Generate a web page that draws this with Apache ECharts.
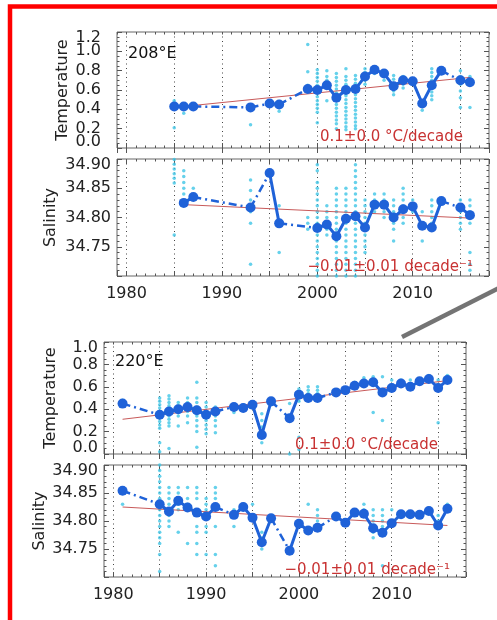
<!DOCTYPE html>
<html><head><meta charset="utf-8">
<script src="https://cdn.jsdelivr.net/npm/echarts@6/dist/echarts.min.js"></script>
<style>html,body{margin:0;padding:0;background:#fff}#c{width:497px;height:620px}</style>
</head><body><div id="c"></div>
<script>
// ---------- DATA ----------
// 208°E temperature: annual means
const t208Years = [1985,1986,1987,1993,1995,1996,1999,2000,2001,2002,2003,2004,2005,2006,2007,2008,2009,2010,2011,2012,2013,2015,2016];
const t208Mean  = [0.43,0.43,0.43,0.42,0.46,0.45,0.61,0.60,0.65,0.52,0.60,0.61,0.74,0.81,0.77,0.64,0.70,0.69,0.46,0.65,0.80,0.70,0.68];
const t208TrendYears = [1985,2016];
const t208TrendVals  = [0.42,0.73];
const t208ObsYears = [1985,1986,1993,1995,1996,1999,2000,2001,2002,2003,2004,2005,2006,2007,2008,2009,2010,2011,2012,2013,2015,2016];
const t208ObsVals = [
  [0.49,0.46,0.21],[0.45,0.36],[0.24],[0.49],[0.48,0.38],[1.07,0.79,0.65,0.58],
  [0.81,0.77,0.73,0.69,0.65,0.61,0.57,0.53,0.49,0.45,0.41,0.37,0.26],
  [0.80,0.74,0.70,0.49],
  [0.77,0.73,0.69,0.65,0.61,0.57,0.53,0.49,0.45,0.41,0.37,0.33,0.29,0.25,0.20],
  [0.82,0.74,0.70,0.66,0.62,0.58,0.54,0.50,0.46,0.42,0.38,0.34,0.30,0.26,0.22,0.19],
  [0.75,0.71,0.67,0.63,0.59,0.55,0.51,0.47,0.43,0.39,0.35,0.31,0.27,0.23,0.20],
  [0.82,0.78,0.74,0.70,0.66],[0.82,0.77],[0.79,0.74,0.70],
  [0.75,0.71,0.67,0.63,0.59,0.55],[0.74,0.70,0.66,0.62],[0.72,0.68],[0.49,0.39],
  [0.82,0.78,0.74,0.70,0.66,0.62,0.58,0.54,0.50],[0.82,0.78],
  [0.80,0.74,0.66,0.59,0.52,0.42],[0.74,0.42]
];
// 208°E salinity
const s208Years = [1986,1987,1993,1995,1996,2000,2001,2002,2003,2004,2005,2006,2007,2008,2009,2010,2011,2012,2013,2015,2016];
const s208Mean  = [34.825,34.835,34.817,34.876,34.790,34.782,34.788,34.768,34.798,34.802,34.783,34.822,34.822,34.800,34.814,34.819,34.786,34.783,34.828,34.817,34.804];
const s208TrendYears = [1986,2016];
const s208TrendVals  = [34.822,34.799];
const s208ObsYears = [1985,1986,1987,1993,1996,1999,2000,2001,2002,2003,2004,2005,2006,2007,2008,2009,2010,2011,2012,2015,2016];
const s208ObsVals = [
  [34.907,34.899,34.891,34.883,34.875,34.867,34.859,34.77],
  [34.88,34.87,34.86,34.85,34.84],[34.85],
  [34.864,34.846,34.83,34.81,34.79,34.72],[34.82,34.74],[34.80,34.79,34.78],
  [34.89,34.88,34.86,34.85,34.84,34.83,34.82,34.81,34.80,34.79,34.78,34.77,34.76,34.75,34.74,34.73,34.72,34.71,34.70],
  [34.82,34.81,34.80,34.79,34.78,34.77],
  [34.85,34.84,34.83,34.82,34.81,34.80,34.79,34.78,34.77,34.76,34.75,34.74,34.73,34.72,34.71,34.70],
  [34.85,34.84,34.83,34.82,34.81,34.80,34.79,34.78,34.77,34.76,34.75,34.74,34.73,34.72,34.71,34.70],
  [34.905,34.89,34.88,34.87,34.86,34.85,34.84,34.83,34.82,34.81,34.80,34.79,34.78,34.77,34.76,34.75,34.74,34.73,34.72,34.71,34.70],
  [34.83,34.82,34.81,34.80,34.79,34.78,34.77,34.76,34.75,34.74],
  [34.84,34.83,34.82,34.81],[34.84,34.83,34.82,34.81,34.80],
  [34.83,34.82,34.81,34.80,34.79,34.78,34.76],
  [34.85,34.84,34.83,34.82,34.81,34.80,34.79],[34.83,34.82,34.81],[34.81,34.76],
  [34.83,34.82,34.81,34.80,34.79,34.78],[34.83,34.82,34.81,34.80,34.79,34.78],
  [34.83,34.82,34.81,34.80,34.79,34.74,34.72,34.71]
];
// 220°E temperature
const t220Years = [1981,1985,1986,1987,1988,1989,1990,1991,1993,1994,1995,1996,1997,1999,2000,2001,2002,2004,2005,2006,2007,2008,2009,2010,2011,2012,2013,2014,2015,2016];
const t220Mean  = [0.45,0.35,0.38,0.40,0.42,0.39,0.35,0.38,0.42,0.41,0.44,0.17,0.47,0.32,0.53,0.50,0.50,0.55,0.57,0.61,0.63,0.64,0.55,0.59,0.63,0.60,0.65,0.67,0.59,0.66];
const t220TrendYears = [1981,2016];
const t220TrendVals  = [0.31,0.655];
const t220ObsYears = [1981,1985,1986,1987,1988,1989,1990,1991,1993,1994,1996,1997,1999,2000,2001,2002,2004,2006,2007,2008,2009,2010,2011,2012,2014,2015,2016];
const t220ObsVals = [
  [0.48,0.44],
  [0.50,0.47,0.44,0.41,0.38,0.35,0.32,0.29,0.26,0.23,0.10,0.02],
  [0.52,0.49,0.46,0.43,0.40,0.37,0.34,0.31,0.28,0.25,0.05],
  [0.46,0.43,0.40,0.37,0.34,0.25],
  [0.50,0.46,0.42,0.38,0.34,0.28],
  [0.64,0.50,0.46,0.42,0.38,0.34,0.30,0.25,0.20,0.06],
  [0.46,0.42,0.38,0.34,0.30,0.26,0.22,0.18],
  [0.42,0.38,0.34,0.30,0.25,0.19],
  [0.44,0.37],[0.44],[0.36,0.30,0.24,0.10],[0.49,0.44],[0.45,0.00],
  [0.58,0.55,0.47,0.15,0.04],[0.60,0.57,0.54],[0.60,0.57,0.54],[0.57],
  [0.64,0.60],[0.68,0.64],[0.69,0.66,0.62,0.37],[0.69,0.30],[0.66,0.62],[0.66],
  [0.66,0.62],[0.70,0.66],[0.66,0.62,0.28],[0.70]
];
// 220°E salinity
const s220Years = [1981,1985,1986,1987,1988,1989,1990,1991,1993,1994,1995,1996,1997,1999,2000,2001,2002,2004,2005,2006,2007,2008,2009,2010,2011,2012,2013,2014,2015,2016];
const s220Mean  = [34.854,34.830,34.817,34.836,34.824,34.815,34.808,34.825,34.811,34.825,34.806,34.762,34.805,34.747,34.795,34.783,34.788,34.808,34.797,34.815,34.813,34.787,34.779,34.796,34.812,34.812,34.811,34.818,34.792,34.822];
const s220TrendYears = [1981,2016];
const s220TrendVals  = [34.825,34.792];
const s220ObsYears = [1981,1985,1986,1987,1988,1989,1990,1991,1993,1994,1995,1996,1997,2000,2001,2002,2007,2008,2009,2010,2015,2016];
const s220ObsVals = [
  [34.83],
  [34.90,34.89,34.88,34.87,34.86,34.85,34.84,34.83,34.82,34.81,34.80,34.79,34.78,34.77,34.76,34.74,34.71],
  [34.86,34.85,34.84,34.83,34.82,34.81,34.80,34.79],
  [34.86,34.85,34.84,34.83,34.82,34.78],
  [34.86,34.84,34.83,34.82,34.76],
  [34.86,34.85,34.84,34.82,34.79,34.78,34.76,34.74],
  [34.84,34.83,34.82,34.79,34.78,34.74],
  [34.86,34.85,34.84,34.79,34.74,34.72],
  [34.82,34.79],[34.83,34.82],[34.83],[34.78,34.77,34.75],[34.81,34.80],
  [34.80,34.79],[34.83],[34.82,34.81,34.80,34.79],[34.83,34.82],
  [34.82,34.81,34.80,34.78,34.77],[34.82,34.81,34.80,34.79,34.78,34.72],[34.82],
  [34.81,34.80],[34.83,34.82]
];
const xTickYears = [1979, 2018];
const yearLabelStep = 10;

// ---------- STYLE / LAYOUT ----------
const FONT = 'DejaVu Sans';
const BLUE = '#1f62d8', CYAN = '#3fc6e6', TREND = '#c85a5a', RED = '#c83232', INK = '#222';
const panels = [
  {left:117, top:32,  width:372, height:116, yMin:0, yMax:1.2, yInt:0.2, minor:4, dec:1, margin:16, name:'Temperature', nameGap:46, xLabels:false, hideMin:false,
   years:t208Years, mean:t208Mean, tY:t208TrendYears, tV:t208TrendVals, oY:t208ObsYears, oV:t208ObsVals},
  {left:117, top:159, width:372, height:117, yMin:34.70, yMax:34.90, yInt:0.05, minor:5, dec:2, margin:6, name:'Salinity', nameGap:58, xLabels:true, hideMin:true,
   years:s208Years, mean:s208Mean, tY:s208TrendYears, tV:s208TrendVals, oY:s208ObsYears, oV:s208ObsVals},
  {left:104, top:342, width:362, height:112, yMin:0, yMax:1.0, yInt:0.2, minor:4, dec:1, margin:6, name:'Temperature', nameGap:45, xLabels:false, hideMin:false,
   years:t220Years, mean:t220Mean, tY:t220TrendYears, tV:t220TrendVals, oY:t220ObsYears, oV:t220ObsVals},
  {left:104, top:465, width:362, height:112, yMin:34.70, yMax:34.90, yInt:0.05, minor:5, dec:2, margin:6, name:'Salinity', nameGap:56, xLabels:true, hideMin:true,
   years:s220Years, mean:s220Mean, tY:s220TrendYears, tV:s220TrendVals, oY:s220ObsYears, oV:s220ObsVals}
];

function solidData(years, vals){
  const out=[];
  for(let i=0;i<years.length;i++){
    out.push([years[i], vals[i]]);
    if(i<years.length-1 && years[i+1]-years[i]>1) out.push([years[i]+0.5,'-']);
  }
  return out;
}
function gapData(years, vals){
  const out=[];
  for(let i=0;i<years.length-1;i++){
    if(years[i+1]-years[i]>1){
      out.push([years[i],vals[i]],[years[i+1],vals[i+1]],[years[i+1],'-']);
    }
  }
  return out;
}
function obsData(ys, vs){
  const out=[];
  ys.forEach((y,i)=>vs[i].forEach(v=>out.push([y,v])));
  return out;
}
const isEnd = (v,a) => Math.abs(v-a) < 1e-7;
// interior labels on the main axis
function yFmtInner(p){
  return v => (isEnd(v,p.yMin) || isEnd(v,p.yMax)) ? '' : v.toFixed(p.dec);
}
// end labels on an overlay axis, nudged inside the box like the original
function yFmtEnds(p){
  return v => {
    const s=v.toFixed(p.dec);
    if(isEnd(v,p.yMin)) return p.hideMin ? '' : s+'\n ';
    if(isEnd(v,p.yMax)) return ' \n'+s;
    return '';
  };
}

const grid=[], xAxis=[], yAxis=[], series=[];
const tickStyle={color:'#555', width:1};
const lblBase={fontSize:16, color:INK, fontFamily:FONT, hideOverlap:false};
panels.forEach((p,i)=>{
  grid.push({left:p.left, top:p.top, width:p.width, height:p.height, show:true, borderColor:'#666', borderWidth:1, backgroundColor:'transparent'});
  ['bottom','top'].forEach(pos=>{
    xAxis.push({gridIndex:i, type:'value', position:pos, min:xTickYears[0], max:xTickYears[1], minInterval:5, maxInterval:5,
      axisLine:{show:false}, axisTick:{inside:true, length:5, lineStyle:tickStyle},
      axisLabel:Object.assign({show: pos==='bottom' && p.xLabels, margin:10,
        formatter: v => (v % yearLabelStep === 0 ? String(v) : '')}, lblBase),
      splitLine:{show: pos==='bottom', showMinLine:false, showMaxLine:false, lineStyle:{color:'#444', width:1, type:[1,3.5]}}});
    xAxis.push({gridIndex:i, type:'value', position:pos, min:xTickYears[0], max:xTickYears[1], interval:1,
      axisLine:{show:false}, axisTick:{inside:true, length:2.5, lineStyle:tickStyle}, axisLabel:{show:false}, splitLine:{show:false}});
  });
  // main left axis (ticks + interior labels + name)
  yAxis.push({gridIndex:i, type:'value', position:'left', min:p.yMin, max:p.yMax, interval:p.yInt,
    axisLine:{show:false}, axisTick:{inside:true, length:5, lineStyle:tickStyle},
    minorTick:{show:true, splitNumber:p.minor, length:2.5, lineStyle:tickStyle},
    axisLabel:Object.assign({formatter:yFmtInner(p), margin:p.margin, showMinLabel:false, showMaxLabel:false}, lblBase),
    splitLine:{show:false},
    name:p.name, nameLocation:'middle', nameGap:p.nameGap, nameMoveOverlap:false,
    nameTextStyle:{fontSize:16, color:INK, fontFamily:FONT}});
  // right mirror axis (ticks only)
  yAxis.push({gridIndex:i, type:'value', position:'right', min:p.yMin, max:p.yMax, interval:p.yInt,
    axisLine:{show:false}, axisTick:{inside:true, length:5, lineStyle:tickStyle},
    minorTick:{show:true, splitNumber:p.minor, length:2.5, lineStyle:tickStyle},
    axisLabel:{show:false}, splitLine:{show:false}});
  // overlay left axis for the end labels only
  yAxis.push({gridIndex:i, type:'value', position:'left', min:p.yMin, max:p.yMax, interval:p.yInt,
    axisLine:{show:false}, axisTick:{show:false}, splitLine:{show:false},
    axisLabel:Object.assign({formatter:yFmtEnds(p), margin:p.margin, lineHeight:12, showMinLabel:true, showMaxLabel:true}, lblBase)});
  const xi=i*4, yi=i*3;
  series.push({type:'scatter', xAxisIndex:xi, yAxisIndex:yi, data:obsData(p.oY,p.oV), symbolSize:3.5, itemStyle:{color:CYAN}, z:2, silent:true});
  series.push({type:'line', xAxisIndex:xi, yAxisIndex:yi, data:p.tY.map((y,k)=>[y,p.tV[k]]), showSymbol:false, lineStyle:{color:TREND, width:1}, z:3, silent:true});
  series.push({type:'line', xAxisIndex:xi, yAxisIndex:yi, data:gapData(p.years,p.mean), showSymbol:false, connectNulls:false, lineStyle:{color:BLUE, width:2.5, type:[8,4,2,4]}, z:4, silent:true});
  series.push({type:'line', xAxisIndex:xi, yAxisIndex:yi, data:solidData(p.years,p.mean), connectNulls:false, symbol:'circle', symbolSize:10, showAllSymbol:true,
    itemStyle:{color:BLUE}, lineStyle:{color:BLUE, width:3}, z:5, silent:true});
});

const graphic=[
  {type:'rect', shape:{x:10, y:6.5, width:600, height:700}, style:{fill:'none', stroke:'#ff0000', lineWidth:4.5}, z:100, silent:true},
  {type:'line', shape:{x1:402, y1:337, x2:512, y2:281.5}, style:{stroke:'#747474', lineWidth:4.5}, z:100, silent:true},
  {type:'text', style:{x:128, y:54, text:'208°E', fontSize:16, fill:'#111', fontFamily:FONT, verticalAlign:'middle'}, z:100},
  {type:'text', style:{x:115, y:362, text:'220°E', fontSize:16, fill:'#111', fontFamily:FONT, verticalAlign:'middle'}, z:100},
  {type:'text', style:{x:463, y:137, text:'0.1±0.0 °C/decade', fontSize:15, fill:RED, fontFamily:FONT, align:'right', verticalAlign:'middle'}, z:100},
  {type:'text', style:{x:473, y:267, text:'−0.01±0.01 decade⁻¹', fontSize:15, fill:RED, fontFamily:FONT, align:'right', verticalAlign:'middle'}, z:100},
  {type:'text', style:{x:438, y:445, text:'0.1±0.0 °C/decade', fontSize:15, fill:RED, fontFamily:FONT, align:'right', verticalAlign:'middle'}, z:100},
  {type:'text', style:{x:450, y:570, text:'−0.01±0.01 decade⁻¹', fontSize:15, fill:RED, fontFamily:FONT, align:'right', verticalAlign:'middle'}, z:100}
];

const chart = echarts.init(document.getElementById('c'), null, {renderer:'canvas'});
chart.setOption({backgroundColor:'#fff', animation:false, grid, xAxis, yAxis, series, graphic});
</script></body></html>
